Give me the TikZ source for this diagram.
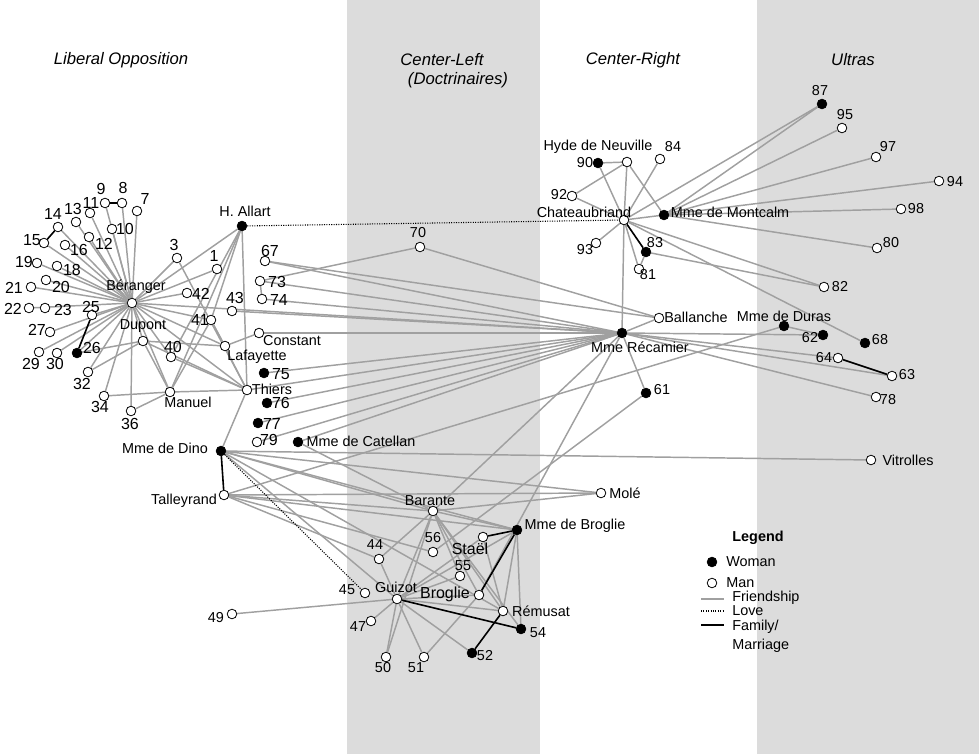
\documentclass[tikz,border=0pt]{standalone}
\usepackage{fontspec}
\setmainfont{Liberation Sans}
\pgfdeclarelayer{bands}
\pgfdeclarelayer{edges}
\pgfsetlayers{bands,edges,main}
\definecolor{bandgray}{RGB}{220,220,220}
\definecolor{linegray}{RGB}{160,160,160}
\tikzset{
  man/.style={circle,draw=black,fill=white,line width=0.6pt,inner sep=0pt,minimum size=7.2pt},
  woman/.style={man,fill=black},
  lab/.style={inner sep=0pt,font=\fontsize{10.8}{12}\selectfont},
  big/.style={font=\fontsize{12}{14}\selectfont},
  head/.style={inner sep=0pt,font=\fontsize{12.5}{14}\selectfont\itshape},
  fr/.style={draw=linegray,line width=1.1pt},
  fam/.style={draw=black,line width=1.2pt},
  love/.style={draw=black,line width=0.8pt,dash pattern=on 0.8pt off 1pt},
}
\newcommand\pers[8][]{\node[#5] (#2) at (#3,#4) {}; \node[lab,#1] (#2l) at (#7,#8) {#6};}
\begin{document}
\begin{tikzpicture}[x=0.75pt,y=-0.75pt]
\useasboundingbox (0,0) rectangle (979,754);
\begin{pgfonlayer}{bands}
\fill[bandgray] (347,0) rectangle (540,754);
\fill[bandgray] (757,0) rectangle (979,754);
\end{pgfonlayer}
% headings
\node[head] (hLib) at (121,60) {Liberal Opposition};
\node[head] (hCL) at (442,60) {Center-Left};
\node[head] (hDoc) at (458,80) {(Doctrinaires)};
\node[head] (hCR) at (633,60) {Center-Right};
\node[head] (hUl) at (853,60) {Ultras};
% persons
\pers[big]{n9}{105}{203}{man}{9}{101}{189}
\pers[big]{n8}{122}{203}{man}{8}{123}{188}
\pers[big]{n7}{137}{211}{man}{7}{145}{199}
\pers[big]{n11}{90}{213}{man}{11}{91}{203}
\pers[big]{n13}{76}{222}{man}{13}{73}{209}
\pers[big]{n14}{58}{227}{man}{14}{53}{214}
\pers[big]{n15}{44}{243}{man}{15}{32}{240}
\pers[big]{n10}{112}{229}{man}{10}{125}{229}
\pers[big]{n12}{89}{237}{man}{12}{104}{244}
\pers[big]{n16}{65}{245}{man}{16}{79}{250}
\pers[big]{n19}{37}{263}{man}{19}{24}{262}
\pers[big]{n18}{57}{266}{man}{18}{72}{270}
\pers[big]{n20}{46}{280}{man}{20}{61}{287}
\pers[big]{n21}{31}{287}{man}{21}{14}{288}
\pers[big]{n22}{29}{308}{man}{22}{13}{309}
\pers[big]{n23}{45}{308}{man}{23}{63}{310}
\pers[big]{n25}{92}{315}{man}{25}{91}{307}
\pers[big]{n27}{50}{332}{man}{27}{37}{330}
\pers[big]{n26}{77}{353}{woman}{26}{92}{348}
\pers[big]{n29}{39}{352}{man}{29}{31}{364}
\pers[big]{n30}{57}{353}{man}{30}{55}{364}
\pers[big]{n32}{88}{372}{man}{32}{82}{384}
\pers[big]{n34}{104}{396}{man}{34}{100}{407}
\pers[big]{n36}{131}{411}{man}{36}{130}{424}
\pers{nB}{132}{303}{man}{Béranger}{136}{287}
\pers{nDupont}{143}{341}{man}{Dupont}{143}{326}
\pers[big]{n40}{171}{357}{man}{40}{173}{347}
\pers{nManuel}{170}{392}{man}{Manuel}{188}{402}
\pers[big]{n3}{177}{258}{man}{3}{174}{245}
\pers[big]{n1}{217}{269}{man}{1}{214}{256}
\pers[big]{n42}{187}{293}{man}{42}{201}{294}
\pers[big]{n43}{232}{311}{man}{43}{235}{298}
\pers[big]{n41}{211}{320}{man}{41}{200}{320}
\pers{nLafayette}{225}{346}{man}{Lafayette}{257}{357}
\pers{nThiers}{247}{390}{man}{Thiers}{272}{389}
\pers{nAllart}{242}{226}{woman}{H. Allart}{245}{211}
\pers[big]{n67}{265}{261}{man}{67}{270}{251}
\pers[big]{n73}{260}{281}{man}{73}{277}{282}
\pers[big]{n74}{262}{299}{man}{74}{279}{300}
\pers{nConstant}{259}{333}{man}{Constant}{292}{341}
\pers[big]{n75}{264}{373}{woman}{75}{281}{374}
\pers[big]{n76}{267}{403}{woman}{76}{281}{403}
\pers[big]{n77}{258}{423}{woman}{77}{272}{424}
\pers[big]{n79}{257}{442}{man}{79}{269}{440}
\pers{nCatellan}{298}{442}{woman}{Mme de Catellan}{361}{441}
\pers{nDino}{221}{451}{woman}{Mme de Dino}{165}{448}
\pers{nTalleyrand}{224}{495}{man}{Talleyrand}{184}{501}
\pers{n70}{420}{247}{man}{70}{418}{233}
\pers{n49}{232}{614}{man}{49}{216}{618}
\pers{n45}{365}{593}{man}{45}{347}{590}
\pers{n44}{379}{559}{man}{44}{375}{545}
\pers{nGuizot}{397}{599}{man}{Guizot}{396}{587}
\pers{n47}{371}{621}{man}{47}{358}{627}
\pers{n50}{386}{657}{man}{50}{383}{668}
\pers{n51}{424}{657}{man}{51}{416}{668}
\pers{nBarante}{433}{511}{man}{Barante}{430}{501}
\pers{n56}{433}{552}{man}{56}{433}{538}
\pers[big]{nStael}{483}{537}{man}{Staël}{470}{549}
\pers{n55}{460}{576}{man}{55}{463}{566}
\pers[big]{nBroglie}{479}{595}{man}{Broglie}{445}{594}
\pers{nMB}{517}{530}{woman}{Mme de Broglie}{575}{526}
\pers{nRemusat}{503}{611}{man}{Rémusat}{541}{611}
\pers{n54}{521}{629}{woman}{54}{538}{633}
\pers{n52}{472}{653}{woman}{52}{485}{656}
\pers{nMole}{601}{493}{man}{Molé}{625}{493}
\pers{nVitrolles}{871}{460}{man}{Vitrolles}{908}{460}
\pers{nRecamier}{622}{333}{woman}{Mme Récamier}{640}{347}
\pers{nBallanche}{659}{318}{man}{Ballanche}{696}{317}
\pers{n61}{646}{393}{woman}{61}{662}{390}
\pers{nChat}{624}{220}{man}{Chateaubriand}{584}{212}
\pers{nHyde}{627}{162}{man}{Hyde de Neuville}{598}{147}
\pers{n90}{598}{163}{woman}{90}{585}{163}
\pers{n84}{660}{159}{man}{84}{673}{147}
\pers{n92}{572}{196}{man}{92}{559}{195}
\pers{n93}{596}{243}{man}{93}{585}{250}
\pers{n83}{646}{252}{woman}{83}{655}{243}
\pers{n81}{639}{269}{man}{81}{648}{275}
\pers{nMontcalm}{664}{215}{woman}{Mme de Montcalm}{730}{212}
\pers{n87}{822}{104}{woman}{87}{820}{91}
\pers{n95}{842}{128}{man}{95}{845}{115}
\pers{n97}{876}{157}{man}{97}{888}{147}
\pers{n94}{939}{181}{man}{94}{955}{182}
\pers{n98}{901}{209}{man}{98}{916}{209}
\pers{n80}{877}{248}{man}{80}{891}{243}
\pers{n82}{824}{287}{man}{82}{840}{287}
\pers{nDuras}{784}{326}{woman}{Mme de Duras}{784}{316}
\pers{n62}{823}{335}{woman}{62}{810}{338}
\pers{n68}{865}{343}{woman}{68}{880}{340}
\pers{n64}{838}{358}{man}{64}{824}{358}
\pers{n63}{892}{376}{man}{63}{907}{375}
\pers{n78}{876}{397}{man}{78}{888}{400}
% legend
\node[lab,font=\fontsize{10.8}{12}\selectfont\bfseries] (legT) at (758,538) {Legend};
\node[woman] (legW) at (712,562) {};
\node[lab,anchor=west] (legWt) at (726,562) {Woman};
\node[man] (legM) at (712,583) {};
\node[lab,anchor=west] (legMt) at (726,583) {Man};
\coordinate (legFa) at (701,599); \coordinate (legFb) at (724,599);
\node[lab,anchor=west] (legFt) at (732,598) {Friendship};
\coordinate (legLa) at (701,611); \coordinate (legLb) at (724,611);
\node[lab,anchor=west] (legLt) at (732,611) {Love};
\coordinate (legKa) at (701,625); \coordinate (legKb) at (724,625);
\node[lab,anchor=west] (legKt) at (732,627) {Family/};
\node[lab,anchor=west] (legKt2) at (732,646) {Marriage};
\begin{pgfonlayer}{edges}
\draw[fr] (legFa) -- (legFb);
\draw[love] (legLa) -- (legLb);
\draw[fam] (legKa) -- (legKb);
\foreach \b in {n9,n8,n7,n11,n13,n14,n10,n12,n16,n15,n19,n18,n20,n21,n22,n25,n27,n29,n30,n26,n32,n34,n36,nDupont,nManuel,nLafayette,nThiers,n3,n1,n42,n41,n40,nAllart,nRecamier} \draw[fr] (nB) -- (\b);
\foreach \b in {n26,n32,nManuel,nThiers,nLafayette} \draw[fr] (nDupont) -- (\b);
\foreach \b in {n34,n36,nThiers,n41,nAllart} \draw[fr] (nManuel) -- (\b);
\foreach \b in {n41,n40,nThiers} \draw[fr] (nAllart) -- (\b);
\foreach \b in {n3,n40,n41,nDino,nRecamier} \draw[fr] (nThiers) -- (\b);
\foreach \b in {n41,nConstant} \draw[fr] (nLafayette) -- (\b);
\foreach \b in {n73,nBallanche} \draw[fr] (n70) -- (\b);
\draw[fr] (n73) -- (n74);
\draw[fr] (n67) -- (nBallanche);
\foreach \b in {n67,n73,n74,n43,nConstant,n75,n76,n77,n79,nCatellan,nBarante,nBroglie,n61,nBallanche,nChat,n62,n64,n63,n78} \draw[fr] (nRecamier) -- (\b);
\draw[fr] (nCatellan) -- (nBarante);
\foreach \b in {nVitrolles,nMole,nMB,nBarante,nRemusat,nGuizot} \draw[fr] (nDino) -- (\b);
\foreach \b in {nDuras,nMole,nBarante,nMB,n56,n44} \draw[fr] (nTalleyrand) -- (\b);
\foreach \b in {n49,n47,n50,n51,n52,nRemusat,nBroglie,n55,nStael,nMB,nBarante,n44} \draw[fr] (nGuizot) -- (\b);
\foreach \b in {nMole,nMB,n55,nBroglie,nRemusat,n54,n50,n44} \draw[fr] (nBarante) -- (\b);
\foreach \b in {nRemusat,n54} \draw[fr] (nMB) -- (\b);
\draw[fr] (nStael) -- (nRemusat);
\draw[fr] (nBroglie) -- (n51);
\draw[fr] (n61) -- (n56);
\foreach \b in {nHyde,n90,n92,n84,n93,n81,nMontcalm,n87,n82,n68} \draw[fr] (nChat) -- (\b);
\foreach \b in {n90,n92,nMontcalm} \draw[fr] (nHyde) -- (\b);
\foreach \b in {n81,n82} \draw[fr] (n83) -- (\b);
\foreach \b in {n87,n95,n97,n94,n98,n80} \draw[fr] (nMontcalm) -- (\b);
\draw[fr] (nDuras) -- (n62);
% family
\draw[fam] (n9) -- (n8);
\draw[fam] (n14) -- (n15);
\draw[fam] (n25) -- (n26);
\draw[fam] (nDino) -- (nTalleyrand);
\draw[fam] (nChat) -- (n83);
\draw[fam] (n64) -- (n63);
\draw[fam] (nMB) -- (nStael);
\draw[fam] (nMB) -- (nBroglie);
\draw[fam] (nGuizot) -- (n54);
\draw[fam] (n52) -- (nRemusat);
% love
\draw[love] (nAllart) -- (nChat);
\draw[love] (nDino) -- (n45);
\end{pgfonlayer}
\end{tikzpicture}
\end{document}
